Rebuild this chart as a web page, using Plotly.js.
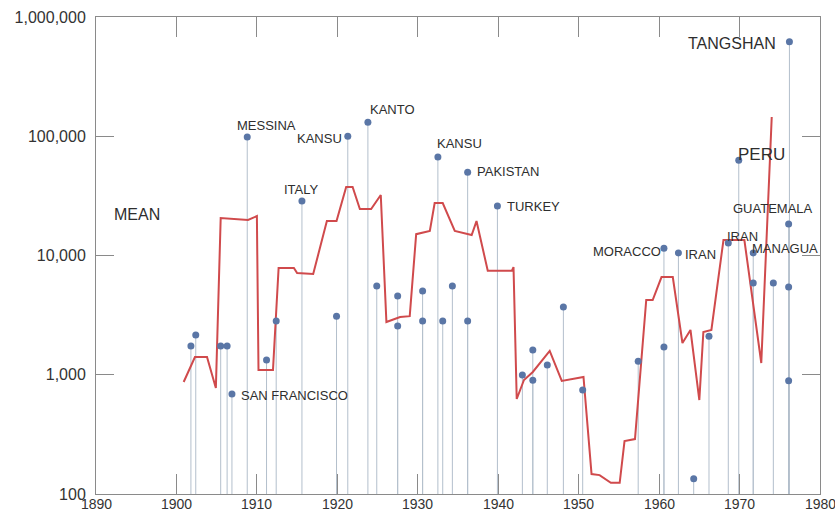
<!DOCTYPE html>
<html>
<head>
<meta charset="utf-8">
<script src="https://cdn.plot.ly/plotly-3.0.1.min.js"></script>
<style>
html,body{margin:0;padding:0;background:#fff;}
#chart{width:835px;height:513px;}
</style>
</head>
<body>
<div id="chart"></div>
<script>
// ---- Data: earthquake deaths (individual events) ----
const quakeYears = [1901.8, 1902.4, 1905.5, 1906.3, 1906.9, 1908.8, 1911.2, 1912.4, 1915.6, 1919.9,
  1921.3, 1923.8, 1924.9, 1927.5, 1927.5, 1930.6, 1930.6, 1932.5, 1933.1, 1934.3,
  1936.2, 1936.2, 1939.9, 1943.0, 1944.3, 1944.3, 1946.1, 1948.1, 1950.5, 1957.4,
  1960.6, 1960.6, 1962.4, 1964.3, 1966.2, 1968.6, 1969.9, 1971.7, 1971.7, 1974.2,
  1976.1, 1976.1, 1976.1, 1976.2];
const quakeDeaths = [1740, 2150, 1740, 1740, 690, 98600, 1330, 2820, 28600, 3100,
  100000, 131000, 5550, 4580, 2560, 5040, 2820, 67000, 2820, 5550,
  50000, 2820, 26000, 995, 1610, 900, 1210, 3700, 745, 1300,
  11500, 1710, 10500, 134, 2100, 12700, 63000, 10500, 5880, 5880,
  18400, 5450, 890, 620000];
const quakeLabels = ["", "", "", "", "SAN FRANCISCO", "MESSINA", "", "", "ITALY", "",
  "KANSU", "KANTO", "", "", "", "", "", "KANSU", "", "",
  "PAKISTAN", "", "TURKEY", "", "", "", "", "", "", "",
  "MORACCO", "", "IRAN", "", "", "IRAN", "PERU", "MANAGUA", "", "",
  "GUATEMALA", "", "", "TANGSHAN"];

// ---- Data: mean line ----
const meanYears = [1900.9, 1902.3, 1903.8, 1904.9, 1905.5, 1908.9, 1910.0, 1910.2, 1912.0, 1912.7,
  1914.6, 1915.0, 1917.0, 1918.7, 1919.9, 1921.1, 1921.9, 1922.8, 1924.2, 1925.4,
  1926.1, 1927.8, 1929.0, 1929.8, 1931.5, 1932.1, 1933.1, 1934.6, 1936.7, 1937.3,
  1938.7, 1941.7, 1941.9, 1942.3, 1943.2, 1944.3, 1946.4, 1947.9, 1950.6, 1951.6,
  1952.6, 1954.0, 1955.1, 1955.7, 1957.0, 1958.4, 1959.2, 1960.3, 1961.7, 1962.9,
  1963.9, 1965.0, 1965.5, 1966.5, 1968.0, 1970.6, 1972.7, 1974.0];
const meanValues = [869, 1409, 1409, 774, 20600, 19850, 21400, 1096, 1096, 7850,
  7850, 7130, 7000, 19450, 19450, 37500, 37500, 24550, 24550, 32150,
  2770, 3050, 3100, 15100, 16050, 27550, 27550, 16050, 14850, 19450,
  7450, 7450, 8000, 626, 904, 1055, 1582, 887, 957, 147,
  144, 124, 124, 278, 289, 4235, 4235, 6600, 6600, 1846,
  2373, 614, 2283, 2373, 13490, 13490, 1255, 145000];

// ---- Axis ticks ----
const yearTicks = [1890, 1900, 1910, 1920, 1930, 1940, 1950, 1960, 1970, 1980];
const yearTickText = ["1890", "1900", "1910", "1920", "1930", "1940", "1950", "1960", "1970", "1980"];
const deathTicks = [100, 1000, 10000, 100000, 1000000];
const deathTickText = ["100", "1,000", "10,000", "100,000", "1,000,000"];

// ---- Label placement (style only) ----
const placement = {
  "SAN FRANCISCO": {xa: "left", xs: 7, ys: -2, size: 13},
  "MESSINA": {xa: "center", xs: 19, ys: 11, size: 13},
  "ITALY": {xa: "center", xs: 0, ys: 12, size: 13},
  "KANSU": {xa: "right", xs: -4, ys: -2, size: 13},
  "KANTO": {xa: "left", xs: 0, ys: 13, size: 13},
  "PAKISTAN": {xa: "left", xs: 7, ys: 1, size: 13},
  "TURKEY": {xa: "left", xs: 8, ys: 0, size: 13},
  "MORACCO": {xa: "right", xs: -1, ys: -3, size: 13},
  "IRAN": {xa: "left", xs: 5, ys: -2, size: 13},
  "MANAGUA": {xa: "left", xs: -3, ys: 4, size: 13},
  "GUATEMALA": {xa: "center", xs: -16, ys: 15, size: 13},
  "PERU": {xa: "left", xs: -3, ys: 6, size: 17},
  "TANGSHAN": {xa: "right", xs: -11, ys: -2, size: 16}
};
const placementOverride = { 17: {xa: "left", xs: -3, ys: 13, size: 13}, 35: {xa: "left", xs: -3, ys: 7, size: 13} };
const FONT = "Liberation Sans, Arial, sans-serif";

// stems
const stemX = [], stemY = [];
quakeYears.forEach((yr, i) => {
  stemX.push(yr, yr, null);
  stemY.push(100, quakeDeaths[i], null);
});

const traces = [
  {type: "scatter", mode: "lines", x: stemX, y: stemY,
   line: {color: "#b3bfcc", width: 1}, hoverinfo: "skip", showlegend: false},
  {type: "scatter", mode: "lines", x: meanYears, y: meanValues,
   line: {color: "#d04a4c", width: 2}, showlegend: false},
  {type: "scatter", mode: "markers", x: quakeYears, y: quakeDeaths,
   marker: {color: "#5a76a6", size: 7}, showlegend: false}
];

const annotations = [];
quakeLabels.forEach((lab, i) => {
  if (!lab) return;
  const p = placementOverride[i] || placement[lab];
  annotations.push({
    x: quakeYears[i], y: Math.log10(quakeDeaths[i]), xref: "x", yref: "y",
    text: lab, showarrow: false, xanchor: p.xa, yanchor: "middle",
    xshift: p.xs, yshift: p.ys,
    font: {family: FONT, size: p.size, color: "#2e2e2e"}
  });
});
annotations.push({
  x: 0.022, y: 0.585, xref: "paper", yref: "paper", text: "MEAN", showarrow: false,
  xanchor: "left", yanchor: "middle",
  font: {family: FONT, size: 16, color: "#2e2e2e"}
});
// x-axis tick labels as annotations for exact placement near the bottom edge
yearTicks.forEach((yr, i) => {
  annotations.push({
    x: yr, y: 0, xref: "x", yref: "paper", text: yearTickText[i], showarrow: false,
    xanchor: "center", yanchor: "middle", yshift: -10, borderpad: 0,
    font: {family: FONT, size: 14, color: "#333"}
  });
});

const layout = {
  width: 835, height: 513,
  margin: {l: 96, r: 15, t: 17, b: 19},
  paper_bgcolor: "#ffffff", plot_bgcolor: "#ffffff",
  showlegend: false,
  xaxis: {
    range: [1890, 1980], tickvals: yearTicks, ticks: "inside", ticklen: 20,
    tickcolor: "#8a8a8a", tickwidth: 1, showline: true, linecolor: "#8a8a8a",
    linewidth: 1, mirror: "ticks", showgrid: false, zeroline: false,
    showticklabels: false, automargin: false
  },
  yaxis: {
    type: "log", range: [2, 6], tickvals: deathTicks, ticktext: deathTickText,
    ticks: "inside", ticklen: 18, tickcolor: "#8a8a8a", tickwidth: 1,
    showline: true, linecolor: "#8a8a8a", linewidth: 1, mirror: "ticks",
    showgrid: false, zeroline: false,
    tickfont: {family: FONT, size: 16, color: "#333"},
    automargin: false, ticklabelstandoff: 6
  },
  annotations: annotations
};

Plotly.newPlot("chart", traces, layout, {staticPlot: true});
</script>
</body>
</html>
